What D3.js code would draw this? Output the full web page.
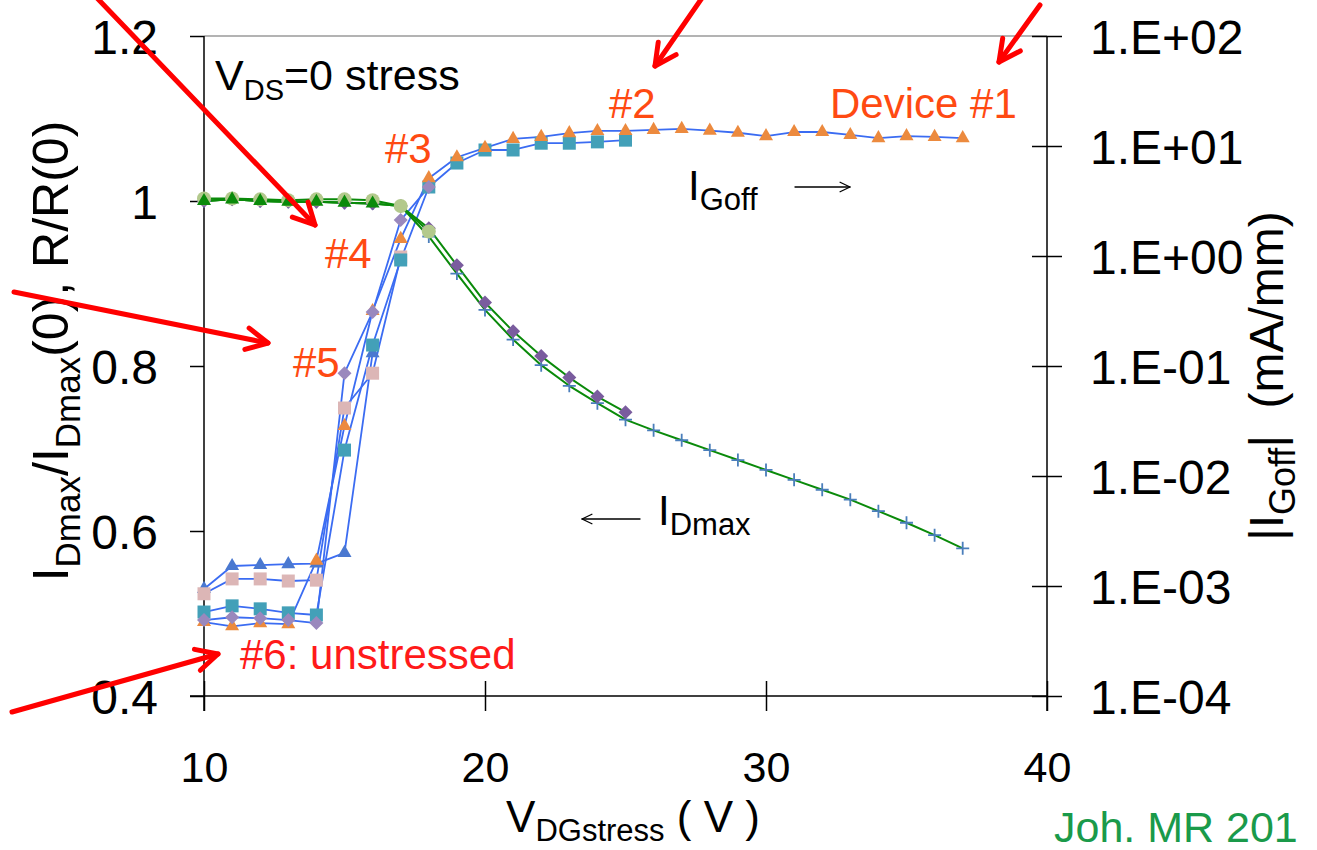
<!DOCTYPE html>
<html><head><meta charset="utf-8">
<script src="https://cdn.jsdelivr.net/npm/d3@7"></script>
<style>
body{margin:0;background:#fff;}
svg{display:block;}
text{font-family:"Liberation Sans",Arial,sans-serif;}
</style>
</head><body>
<svg id="c" width="1317" height="850"></svg>
<script>
// ---------- data ----------
const vdg = [10,11,12,13,14,15,16,17,18,19,20,21,22,23,24,25,26,27,28,29,30,31,32,33,34,35,36,37];

// |IGoff| (mA/mm), right log axis
const igDev1 = [4.7e-4,4.3e-4,4.6e-4,4.5e-4,1.7e-3,2.85e-2,0.316,1.43,5.1,7.9,9.6,11.6,12.1,13.1,13.7,13.7,14.0,14.3,13.8,13.2,12.3,13.4,13.4,12.6,11.8,12.3,12.1,11.8];
const igDev2 = [5.8e-4,6.6e-4,6.2e-4,5.7e-4,5.45e-4,1.72e-2,0.155,0.92,4.24,7.0,9.2,9.2,10.6,10.6,10.9,11.3];
const igDev3 = [4.9e-4,5.2e-4,5.1e-4,4.9e-4,4.6e-4,8.6e-2,0.31,2.12,4.24];
const igDev4 = [8.5e-4,1.16e-3,1.16e-3,1.11e-3,1.13e-3,4.15e-2,8.6e-2,0.98];
const igDev5 = [9.4e-4,1.52e-3,1.55e-3,1.58e-3,1.6e-3,2.0e-3,0.131];

// IDmax/IDmax(0), left linear axis
const idDev1 = [1.000,1.002,1.000,0.999,0.999,0.998,0.997,0.994,0.957,0.912,0.868,0.832,0.801,0.776,0.755,0.735,0.722,0.710,0.698,0.686,0.674,0.662,0.650,0.638,0.624,0.610,0.595,0.579];
const idDev2 = [1.000,1.002,1.000,0.999,0.999,0.998,0.997,0.994,0.967,0.922,0.877,0.842,0.812,0.786,0.763,0.744];
const idDev3 = [1.003,1.003,1.002,1.001,1.002,1.002,1.001,0.994,0.963];
const idDev4 = [1.000,1.002,1.000,0.999,0.999,0.998,0.997];

const xTicks = [10,20,30,40];
const leftTicks = [0.4,0.6,0.8,1.0,1.2];
const leftTickLabels = ["0.4","0.6","0.8","1","1.2"];
const rightTicks = [1e-4,1e-3,1e-2,1e-1,1e0,1e1,1e2];
const rightTickLabels = ["1.E-04","1.E-03","1.E-02","1.E-01","1.E+00","1.E+01","1.E+02"];

// ---------- layout ----------
const L = 204, R = 1047, T = 36, B = 696;
const svg = d3.select("#c");
const x = d3.scaleLinear().domain([10,40]).range([L,R]);
const yL = d3.scaleLinear().domain([0.4,1.2]).range([B,T]);
const yR = d3.scaleLog().domain([1e-4,1e2]).range([B,T]);

const BLUE = "#3b6cf2", GREEN = "#0a8a0a";
const toPts = vals => vals.map((v,i)=>({x:vdg[i], v}));

// ---------- axes ----------
svg.append("line").attr("x1",L).attr("x2",R).attr("y1",T).attr("y2",T).attr("stroke","#9a9a9a").attr("stroke-width",1.3);

const axL = svg.append("g").attr("transform",`translate(${L},0)`)
  .call(d3.axisLeft(yL).tickValues(leftTicks).tickFormat((d,i)=>leftTickLabels[i]).tickSize(14).tickPadding(32).tickSizeOuter(0));
axL.select(".domain").remove();
axL.selectAll("line").attr("stroke","#000").attr("stroke-width",1.5);
axL.selectAll("text").attr("font-size",48).attr("fill","#000").attr("font-family","Liberation Sans, Arial, sans-serif").attr("dy","0.36em");
svg.append("line").attr("x1",L).attr("x2",L).attr("y1",T).attr("y2",B+15).attr("stroke","#000").attr("stroke-width",1.5);

const axR = svg.append("g").attr("transform",`translate(${R},0)`)
  .call(d3.axisRight(yR).tickValues(rightTicks).tickFormat((d,i)=>rightTickLabels[i]).tickSize(15).tickPadding(28).tickSizeOuter(0));
axR.select(".domain").remove();
axR.selectAll("line").attr("x1",-15).attr("x2",15).attr("stroke","#000").attr("stroke-width",1.5);
axR.selectAll("text").attr("font-size",48).attr("fill","#000").attr("font-family","Liberation Sans, Arial, sans-serif").attr("dy","0.36em");
svg.append("line").attr("x1",R).attr("x2",R).attr("y1",T).attr("y2",B+15).attr("stroke","#000").attr("stroke-width",1.5);

const axB = svg.append("g").attr("transform",`translate(0,${B})`)
  .call(d3.axisBottom(x).tickValues(xTicks).tickFormat(d3.format("d")).tickSize(15).tickPadding(40).tickSizeOuter(0));
axB.select(".domain").remove();
axB.selectAll("line").attr("y1",-15).attr("y2",15).attr("stroke","#000").attr("stroke-width",1.5);
axB.selectAll("text").attr("font-size",43).attr("fill","#000").attr("font-family","Liberation Sans, Arial, sans-serif");
svg.append("line").attr("x1",L-14).attr("x2",R).attr("y1",B).attr("y2",B).attr("stroke","#000").attr("stroke-width",1.5);

// ---------- marks ----------
const plot = svg.append("g");
function drawLine(pts, yScale, color, w){
  plot.append("path").datum(pts)
    .attr("fill","none").attr("stroke",color).attr("stroke-width",w).attr("stroke-linejoin","round")
    .attr("d", d3.line().x(d=>x(d.x)).y(d=>yScale(d.v)));
}
function tri(s){ const h=s*Math.sqrt(3)/2; return `M0,${-2*h/3}L${s/2},${h/3}L${-s/2},${h/3}Z`; }
function sq(s){ return `M${-s/2},${-s/2}h${s}v${s}h${-s}Z`; }
function dia(s){ return `M0,${-s/2}L${s/2},0L0,${s/2}L${-s/2},0Z`; }
function cir(s){ const r=s/2; return `M${r},0A${r},${r} 0 1,1 ${-r},0A${r},${r} 0 1,1 ${r},0Z`; }
function plus(s){ return `M${-s/2},0H${s/2}M0,${-s/2}V${s/2}`; }
function drawMarkers(pts, yScale, shape, size, color, isStroke){
  plot.append("g").selectAll("path").data(pts).join("path")
    .attr("transform", d=>`translate(${x(d.x)},${yScale(d.v)})`)
    .attr("d", shape(size))
    .attr("fill", isStroke ? "none" : color)
    .attr("stroke", isStroke ? color : "none")
    .attr("stroke-width", isStroke ? 1.8 : 0);
}

// IGoff curves
const ig1 = toPts(igDev1), ig2 = toPts(igDev2), ig3 = toPts(igDev3), ig4 = toPts(igDev4), ig5 = toPts(igDev5);
[ig5,ig4,ig3,ig2,ig1].forEach(p=>drawLine(p,yR,BLUE,1.8));
drawMarkers(ig5,yR,tri,14,"#4a78d0");
drawMarkers(ig4,yR,sq,13,"#dcb6b6");
drawMarkers(ig2,yR,sq,13,"#43a0b8");
drawMarkers(ig1,yR,tri,14,"#ec8a3e");
drawMarkers(ig3,yR,dia,14,"#9a88bd");

// IDmax curves
const id1 = toPts(idDev1), id2 = toPts(idDev2), id3 = toPts(idDev3), id4 = toPts(idDev4);
[id1,id2,id3,id4].forEach(p=>drawLine(p,yL,GREEN,2));
drawMarkers(id1,yL,plus,13,"#4a7ebb",true);
drawMarkers(id2,yL,dia,14,"#7a5c9e");
drawMarkers(id3,yL,cir,14,"#b3c98c");
drawMarkers(id4,yL,tri,14,"#0a8a0a");

// ---------- text ----------
function subText(g, parts, attrs){
  const t = g.append("text");
  Object.entries(attrs).forEach(([k,v])=>t.attr(k,v));
  let shifted = false;
  parts.forEach(p=>{
    const ts = t.append("tspan").text(p.t);
    if (p.sub){ ts.attr("font-size",p.size).attr("dy", shifted?0:p.dy); shifted=true; }
    else { ts.attr("dy", shifted? -parts.find(q=>q.sub).dy : 0); shifted=false; }
  });
  return t;
}

// axis titles
subText(svg.append("g").attr("transform","translate(68,351) rotate(-90)"),
  [{t:"I"},{t:"Dmax",sub:true,size:35,dy:12},{t:"/I"},{t:"Dmax",sub:true,size:35,dy:12},{t:"(0), R/R(0)"}],
  {"font-size":50,"text-anchor":"middle","fill":"#000"});
subText(svg.append("g").attr("transform","translate(1283,376) rotate(-90)"),
  [{t:"|I"},{t:"Goff",sub:true,size:36,dy:12},{t:"|  (mA/mm)"}],
  {"font-size":48,"text-anchor":"middle","fill":"#000","style":"white-space:pre"});
subText(svg, [{t:"V"},{t:"DGstress",sub:true,size:31,dy:9},{t:" ( V )"}],
  {"x":633,"y":832,"font-size":44,"text-anchor":"middle","fill":"#000"});

// annotations
subText(svg, [{t:"V"},{t:"DS",sub:true,size:29,dy:10},{t:"=0 stress"}],
  {"x":215,"y":90,"font-size":43,"fill":"#000"});
const OR = "#ff4a12";
svg.append("text").attr("x",830).attr("y",118).attr("font-size",42).attr("fill",OR).text("Device #1");
svg.append("text").attr("x",609).attr("y",118).attr("font-size",42).attr("fill",OR).text("#2");
svg.append("text").attr("x",385).attr("y",163).attr("font-size",42).attr("fill",OR).text("#3");
svg.append("text").attr("x",325).attr("y",268).attr("font-size",42).attr("fill",OR).text("#4");
svg.append("text").attr("x",293).attr("y",377).attr("font-size",42).attr("fill",OR).text("#5");
svg.append("text").attr("x",240).attr("y",669).attr("font-size",42).attr("fill","#ff1a1a").text("#6: unstressed");
svg.append("text").attr("x",1054).attr("y",842).attr("font-size",43).attr("fill","#1a9a4a").text("Joh. MR 201");

subText(svg, [{t:"I"},{t:"Goff",sub:true,size:31,dy:10}], {"x":688,"y":200,"font-size":42,"fill":"#000"});
subText(svg, [{t:"I"},{t:"Dmax",sub:true,size:31,dy:10}], {"x":658,"y":525,"font-size":42,"fill":"#000"});

function arrow(x1,y1,x2,y2,color,w,len,ang){
  const g = svg.append("g").attr("stroke",color).attr("stroke-width",w).attr("fill","none").attr("stroke-linecap","round").attr("stroke-linejoin","round");
  g.append("line").attr("x1",x1).attr("y1",y1).attr("x2",x2).attr("y2",y2);
  const a = Math.atan2(y1-y2, x1-x2);
  const p1 = [x2+len*Math.cos(a+ang), y2+len*Math.sin(a+ang)];
  const p2 = [x2+len*Math.cos(a-ang), y2+len*Math.sin(a-ang)];
  g.append("path").attr("d",`M${p1[0]},${p1[1]}L${x2},${y2}L${p2[0]},${p2[1]}`);
}
arrow(795,187,850,187,"#000",1.3,11,0.45);
arrow(640,519,582,519,"#000",1.3,11,0.45);
const RED = "#ff0000";
arrow(97,-2,315,225,RED,5,24,0.47);
arrow(14,292,268,343,RED,5,24,0.47);
arrow(12,712,218,654,RED,5,24,0.47);
arrow(702,-2,655,66,RED,5,24,0.47);
arrow(1040,5,999,62,RED,5,24,0.47);
</script>
</body></html>
